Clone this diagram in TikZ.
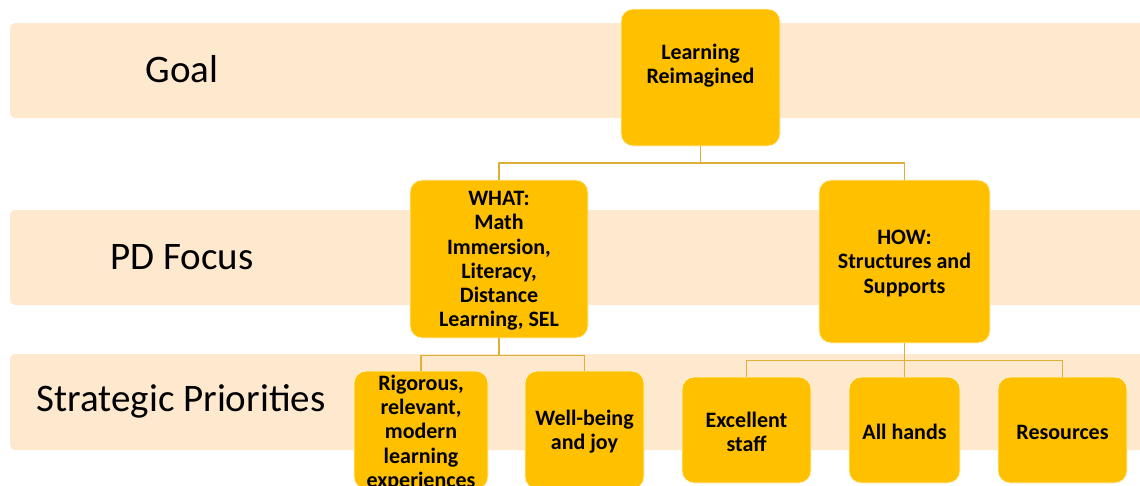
\documentclass[tikz,border=0pt]{standalone}
\usepackage{fontspec}
\setmainfont{Carlito}
\begin{document}
\definecolor{bandfill}{RGB}{254,232,206}
\definecolor{boxfill}{RGB}{255,192,0}
\definecolor{linkcol}{RGB}{222,176,56}
\begin{tikzpicture}[x=1pt,y=-1pt,
  band/.style={fill=bandfill, rounded corners=5pt},
  rowlabel/.style={font=\fontsize{39}{47}\selectfont, text=black, inner sep=0pt},
  box/.style={fill=boxfill, draw=white!85!boxfill, line width=0.8pt,
    rounded corners=12pt, inner sep=0pt},
  boxtext/.style={font=\bfseries\fontsize{22}{24.2}\selectfont, align=center,
    text=black, inner sep=0pt, yshift=-2pt},
  conn/.style={draw=linkcol, line width=1.8pt}]
\useasboundingbox (0,0) rectangle (1140,485);
\clip (0,0) rectangle (1140,485);

% horizontal row bands
\fill[band] (10,23) rectangle (1160,118);
\fill[band] (10,210) rectangle (1160,305);
\fill[band] (10,354) rectangle (1160,450);

% row labels
\node[rowlabel] (lgoal) at (182,69) {Goal};
\node[rowlabel] (lpd) at (182,257) {PD Focus};
\node[rowlabel] (lsp) at (181,401) {Strategic Priorities};

% boxes: goal level
\node[box, minimum width=159, minimum height=137] (lr) at (700.5,77.5) {};
% focus level
\node[box, minimum width=178, minimum height=158] (what) at (499,259) {};
\node[box, minimum width=171, minimum height=163] (how) at (904.5,261.5) {};
% priority level
\node[box, minimum width=134, minimum height=118] (rig) at (421,430) {};
\node[box, minimum width=119, minimum height=118] (well) at (584.5,430) {};
\node[box, minimum width=129, minimum height=106] (exc) at (746.5,430) {};
\node[box, minimum width=111, minimum height=106] (allh) at (904.5,430) {};
\node[box, minimum width=129, minimum height=106] (res) at (1062.5,430) {};

% box texts
\node[boxtext] (lrt) at (700.5,64) {Learning\\Reimagined};
\node[boxtext] (whatt) at (what) {WHAT:\\Math\\Immersion,\\Literacy,\\Distance\\Learning, SEL};
\node[boxtext] (howt) at (how) {HOW:\\Structures and\\Supports};
\node[boxtext] (rigt) at (421,431) {Rigorous,\\relevant,\\modern\\learning\\experiences};
\node[boxtext] (wellt) at (584.5,430) {Well-being\\and joy};
\node[boxtext] (exct) at (746.5,430) {Excellent\\staff};
\node[boxtext] (allht) at (904.5,430) {All hands};
\node[boxtext] (rest) at (1062.5,430) {Resources};

% connectors
\draw[conn] (lr.south) -- ++(0,16.5) -| (what.north);
\draw[conn] (lr.south) -- ++(0,16.5) -| (how.north);
\draw[conn] (what.south) -- ++(0,17) -| (rig.north);
\draw[conn] (what.south) -- ++(0,17) -| (well.north);
\draw[conn] (how.south) -- ++(0,17) -| (exc.north);
\draw[conn] (how.south) -- (allh.north);
\draw[conn] (how.south) -- ++(0,17) -| (res.north);
\end{tikzpicture}
\end{document}
